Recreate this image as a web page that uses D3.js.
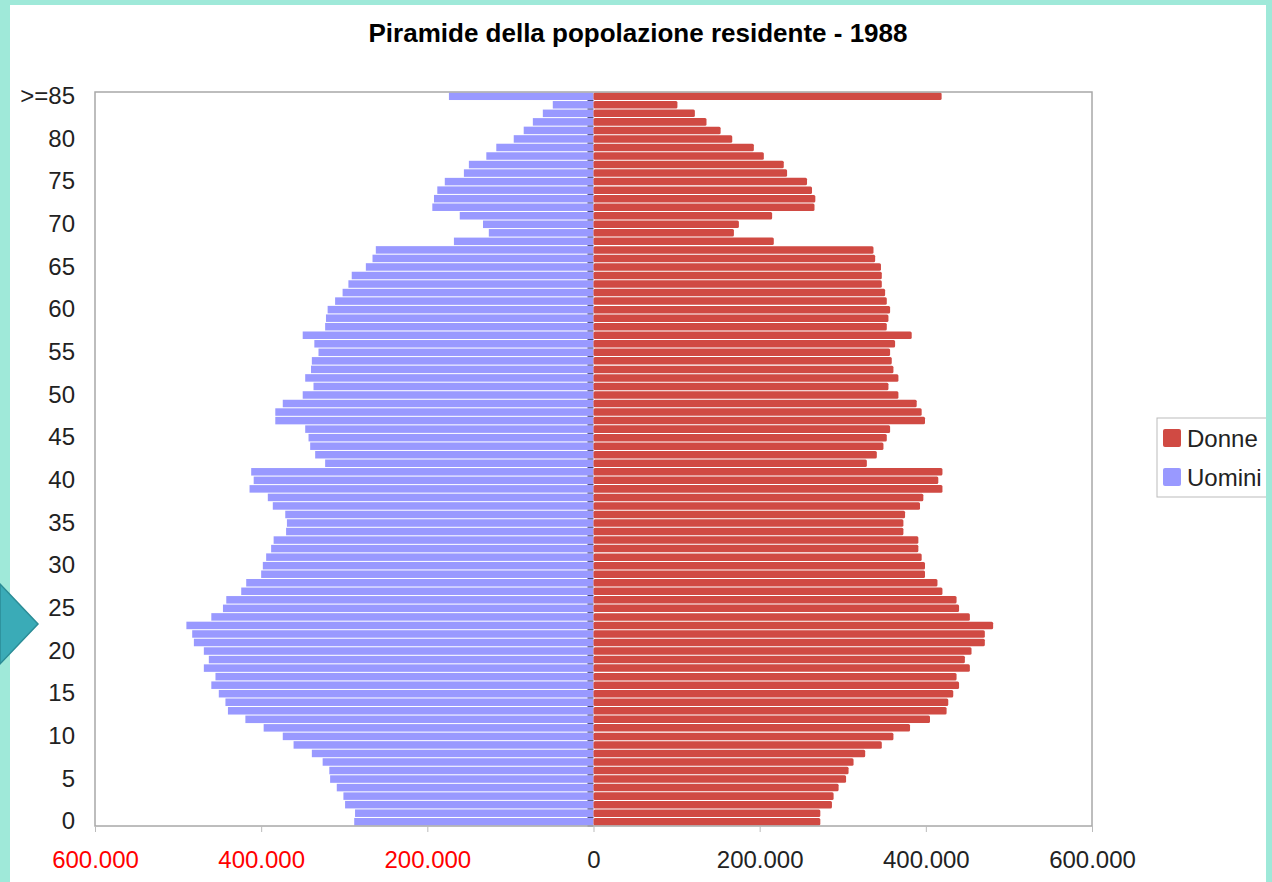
<!DOCTYPE html>
<html>
<head>
<meta charset="utf-8">
<script src="https://cdn.jsdelivr.net/npm/d3@7"></script>
<style>
  body { margin: 0; background: #9fe9d9; }
  svg { display: block; font-family: "Liberation Sans", Arial, sans-serif; }
</style>
</head>
<body>
<div id="chart"></div>
<script>
const width = 1272;
const height = 882;
const margin = {left: 95, right: 180, top: 92, bottom: 56};

// age classes, bottom to top
const ages = ["0","1","2","3","4","5","6","7","8","9","10","11","12","13","14","15","16","17","18","19",
  "20","21","22","23","24","25","26","27","28","29","30","31","32","33","34","35","36","37","38","39",
  "40","41","42","43","44","45","46","47","48","49","50","51","52","53","54","55","56","57","58","59",
  "60","61","62","63","64","65","66","67","68","69","70","71","72","73","74","75","76","77","78","79",
  "80","81","82","83","84",">=85"];

// residents (thousands) by age, same order as ages
const uomini = [288,287,299,301,309,317,318,326,339,361,374,397,419,440,443,451,460,455,469,463,
  469,481,483,490,460,446,442,424,418,400,398,394,388,385,370,369,371,386,392,414,
  409,412,323,335,341,343,347,383,383,374,350,337,347,340,339,331,336,350,323,322,
  320,311,302,295,291,274,266,262,168,126,133,161,194,192,188,179,156,150,129,117,
  96,84,73,61,49,174];
const donne = [273,273,287,289,295,304,307,313,327,347,361,381,405,425,427,433,440,437,453,447,
  455,471,471,481,453,440,437,420,414,399,399,395,391,391,373,373,375,393,397,420,
  415,420,329,341,349,353,357,399,395,389,367,355,367,361,359,357,363,383,353,355,
  357,353,351,347,347,346,339,337,217,169,175,215,266,267,263,257,233,229,205,193,
  167,153,136,122,101,419];

const xTicks = [-600000,-400000,-200000,0,200000,400000,600000];
const yTickLabels = ["0","5","10","15","20","25","30","35","40","45","50","55","60","65","70","75","80",">=85"];

const series = [
  {name: "Donne", color: "#d04a43"},
  {name: "Uomini", color: "#9999ff"}
];

const data = ages.map((a, i) => ({age: a, m: uomini[i] * 1000, f: donne[i] * 1000}));

const svg = d3.select('#chart')
  .append('svg')
  .attr('width', width)
  .attr('height', height);

// page frame
svg.append('rect').attr('width', width).attr('height', height).attr('fill', '#9fe9d9');
svg.append('rect').attr('x', 10).attr('y', 5).attr('width', 1256).attr('height', height - 5).attr('fill', '#fff');

const x = d3.scaleLinear()
  .domain([-600000, 600000])
  .range([margin.left, width - margin.right]);

const y = d3.scaleBand()
  .domain(ages)
  .range([height - margin.bottom, margin.top])
  .paddingInner(0.12)
  .paddingOuter(0.06);

// title
svg.append('text')
  .attr('x', 638)
  .attr('y', 42)
  .attr('text-anchor', 'middle')
  .style('font-size', '26px')
  .style('font-weight', 'bold')
  .text('Piramide della popolazione residente - 1988');

// bars
svg.append('g').selectAll('rect.m')
  .data(data)
  .enter().append('rect')
  .attr('class', 'm')
  .attr('x', d => x(-d.m))
  .attr('y', d => y(d.age))
  .attr('width', d => x(0) - x(-d.m))
  .attr('height', y.bandwidth())
  .attr('fill', series[1].color);

svg.append('g').selectAll('rect.f')
  .data(data)
  .enter().append('rect')
  .attr('class', 'f')
  .attr('x', x(0))
  .attr('y', d => y(d.age))
  .attr('width', d => x(d.f) - x(0))
  .attr('height', y.bandwidth())
  .attr('rx', 1.5)
  .attr('fill', series[0].color);

// center ticks
svg.append('g').selectAll('line')
  .data(ages)
  .enter().append('line')
  .attr('x1', x(0) - 6)
  .attr('x2', x(0))
  .attr('y1', d => y(d) + y.bandwidth() + 0.5)
  .attr('y2', d => y(d) + y.bandwidth() + 0.5)
  .attr('stroke', '#4a4a7a')
  .attr('stroke-width', 1);

// plot frame
svg.append('rect')
  .attr('x', x(-600000))
  .attr('y', margin.top)
  .attr('width', x(600000) - x(-600000))
  .attr('height', height - margin.bottom - margin.top)
  .attr('fill', 'none')
  .attr('stroke', '#a8a8a8')
  .attr('stroke-width', 1.5);

// x axis
const itFormat = d3.formatLocale({decimal: ",", thousands: ".", grouping: [3], currency: ["€", ""]}).format(",.0f");
const xAxis = d3.axisBottom(x)
  .tickValues(xTicks)
  .tickSize(6)
  .tickSizeOuter(0)
  .tickPadding(19)
  .tickFormat(d => itFormat(Math.abs(d)));

const gx = svg.append('g')
  .attr('transform', 'translate(0,' + (height - margin.bottom) + ')')
  .call(xAxis);
gx.select('.domain').remove();
gx.selectAll('.tick line').attr('stroke', '#bbb');
gx.selectAll('.tick text')
  .style('font-size', '24px')
  .attr('fill', d => d < 0 ? '#ff0000' : '#222');

// y axis labels
const yAxis = d3.axisLeft(y)
  .tickValues(yTickLabels)
  .tickSize(0)
  .tickPadding(20);

const gy = svg.append('g')
  .attr('transform', 'translate(' + margin.left + ',0)')
  .call(yAxis);
gy.select('.domain').remove();
gy.selectAll('.tick text')
  .style('font-size', '24px')
  .attr('fill', '#222');

// legend
const legend = svg.append('g').attr('transform', 'translate(1157,418)');
legend.append('rect')
  .attr('width', 130)
  .attr('height', 79)
  .attr('fill', '#fff')
  .attr('stroke', '#bbb');
series.forEach((s, i) => {
  legend.append('rect')
    .attr('x', 6)
    .attr('y', 11 + i * 39)
    .attr('width', 18)
    .attr('height', 18)
    .attr('rx', 2)
    .attr('fill', s.color);
  legend.append('text')
    .attr('x', 30)
    .attr('y', 29 + i * 39)
    .style('font-size', '24px')
    .attr('fill', '#222')
    .text(s.name);
});

// right mint strip and left arrow decoration
svg.append('rect').attr('x', 1266).attr('y', 0).attr('width', 6).attr('height', height).attr('fill', '#9fe9d9');
svg.append('rect').attr('x', 0).attr('y', 0).attr('width', width).attr('height', 5).attr('fill', '#9fe9d9');
svg.append('polygon')
  .attr('points', '0,584 38,624 0,664')
  .attr('fill', '#3aabb7')
  .attr('stroke', '#2b8c96')
  .attr('stroke-width', 1.5);
</script>
</body>
</html>
